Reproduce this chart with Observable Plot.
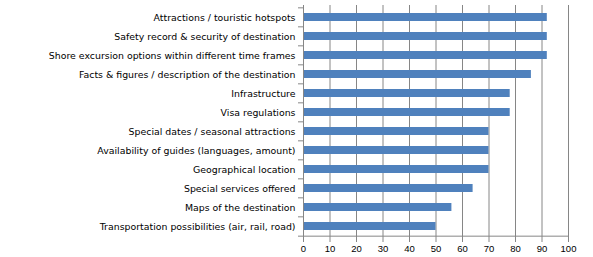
<!DOCTYPE html>
<html><head><meta charset="utf-8">
<script src="https://cdn.jsdelivr.net/npm/d3@7"></script>
<script src="https://cdn.jsdelivr.net/npm/@observablehq/plot@0.6"></script>
<style>body{margin:0;background:#fff;} svg{display:block;}</style>
</head><body><div id="chart"></div>
<script>
const categories = [
  "Attractions / touristic hotspots",
  "Safety record & security of destination",
  "Shore excursion options within different time frames",
  "Facts & figures / description of the destination",
  "Infrastructure",
  "Visa regulations",
  "Special dates / seasonal attractions",
  "Availability of guides (languages, amount)",
  "Geographical location",
  "Special services offered",
  "Maps of the destination",
  "Transportation possibilities (air, rail, road)"
];
const values = [92, 92, 92, 86, 78, 78, 70, 70, 70, 64, 56, 50];
const xTicks = [0, 10, 20, 30, 40, 50, 60, 70, 80, 90, 100];

const data = categories.map((c, i) => ({category: c, value: values[i]}));
const W = 593, H = 257, mL = 303, mR = 25, mT = 5, mB = 20;
const step = (H - mT - mB) / categories.length;
const plotW = W - mL - mR;
const grid = "#868686";

const chart = Plot.plot({
  width: W, height: H,
  marginLeft: mL, marginRight: mR, marginTop: mT, marginBottom: mB,
  style: {fontFamily: "'DejaVu Sans', sans-serif", fontSize: "9.4px", color: "#000", background: "#fff"},
  x: {domain: [0, 100], label: null, axis: null},
  y: {domain: categories, paddingInner: 0.58, paddingOuter: 0.29, label: null, axis: null},
  marks: [
    Plot.ruleX(xTicks.slice(1), {stroke: grid, strokeWidth: 1}),
    Plot.barX(data, {y: "category", x: "value", fill: "#4F81BD"}),
    Plot.ruleX([0], {stroke: grid, strokeWidth: 1}),
    Plot.ruleY([categories[categories.length - 1]], {dy: step / 2, stroke: grid, strokeWidth: 1}),
    Plot.ruleY(categories, {dy: -step / 2, stroke: grid, insetLeft: -5, insetRight: plotW}),
    Plot.ruleY([categories[categories.length - 1]], {dy: step / 2, stroke: grid, insetLeft: -5, insetRight: plotW}),
    Plot.axisX({ticks: xTicks, tickSize: 5, stroke: grid, tickPadding: 3, fontSize: 9.5, fontFamily: "'Liberation Sans', Arial, sans-serif", fill: "#000", label: null}),
    Plot.axisY({tickSize: 0, tickPadding: 8, fontSize: 9.4, fill: "#000", label: null})
  ]
});
document.getElementById("chart").appendChild(chart);
</script></body></html>
